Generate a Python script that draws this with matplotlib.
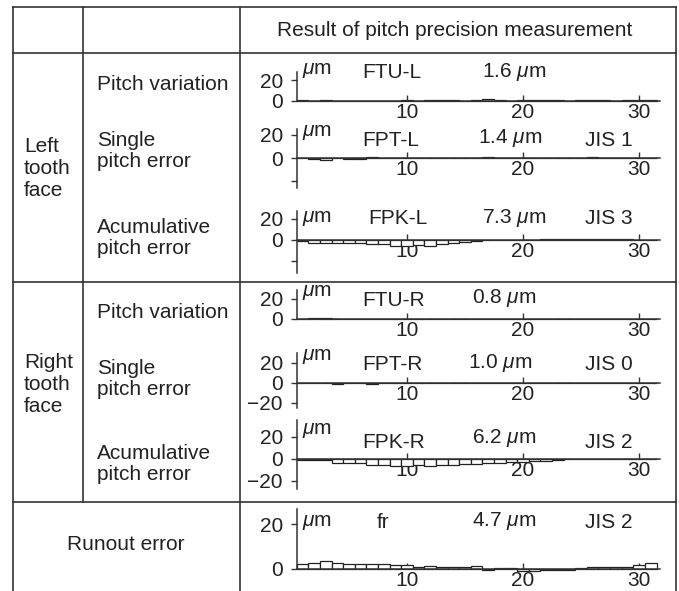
import matplotlib
matplotlib.use("Agg")
import matplotlib.pyplot as plt

plt.rcParams['font.family'] = ['Liberation Sans', 'DejaVu Sans']
plt.rcParams['mathtext.fontset'] = 'custom'
plt.rcParams['mathtext.it'] = 'Liberation Sans:italic'
plt.rcParams['mathtext.rm'] = 'Liberation Sans'

# ---------------- data ----------------
teeth = list(range(1, 32))
ftu_l = [1.2, 0.3, 0.5, 0.4, 0.2, 0.3, 0.2, 0.4, 0.3, 0.6, 0.2, 1.0, 1.1, 1.0, 0.4, 0.7,
         1.6, 0.9, 0.4, 1.1, 1.0, 1.2, 1.1, 0.0, 0.9, 1.2, 1.0, 0.3, 0.6, 1.4, 0.5]
fpt_l = [0.3, -1.2, -1.4, 0.0, -0.9, -0.8, 0.5, 0.3, 0.4, 0.2, 0.3, 0.2, 0.1, -0.4, 0.3, 0.2,
         0.5, -0.2, 0.3, 0.2, 0.3, 0.1, 0.2, -0.3, 0.1, 1.0, 0.2, 0.0, 0.3, 0.1, 0.0]
fpk_l = [-0.5, -2.5, -3.0, -3.0, -3.3, -3.3, -4.2, -4.2, -5.5, -6.0, -4.5, -5.5, -3.5, -2.5,
         -1.8, -1.2, -0.3, 0.0, 0.2, 0.3, 0.3, 0.5, 0.5, 0.6, 0.6, 1.3, 0.7, 0.8, 0.8, 0.3, 0.2]
ftu_r = [0.0, 0.8, 0.8, 0.1, 0.0, 0.1, 0.5, 0.5, 0.0, 0.0, 0.1, 0.0, 0.0, 0.0, 0.1, 0.0,
         0.0, 0.1, 0.0, 0.0, 0.0, 0.1, 0.0, 0.0, 0.0, 0.0, 0.1, 0.0, 0.0, 0.0, 0.0]
fpt_r = [-0.2, -0.1, 0.0, -0.5, -0.2, -0.3, -0.5, -0.4, 0.3, -0.2, -0.3, -0.3, -0.3, 0.5,
         0.5, 0.5, 0.5, 0.5, 0.4, -0.2, 0.4, 0.4, 0.4, 0.4, 0.4, 0.0, 0.0, 0.0, 0.0, 0.0, 0.0]
fpk_r = [-0.8, -1.0, -1.0, -3.5, -3.5, -4.0, -5.0, -5.8, -6.0, -6.0, -5.8, -6.0, -5.5, -5.3,
         -4.5, -4.5, -3.8, -3.5, -3.0, -2.5, -2.0, -1.5, -1.0, 0.2, 0.2, 0.2, 0.2, 0.2, 0.2, 0.2, 0.2]
fr = [2.2, 2.7, 3.6, 2.7, 2.4, 2.4, 2.4, 2.2, 1.9, 1.9, 1.0, 1.5, 0.9, 0.9, 0.9, 1.2,
      -0.3, 0.4, 0.4, -1.1, -0.7, -0.3, -0.3, -0.3, 0.4, 1.0, 1.0, 1.0, 1.0, 1.8, 2.5]

series = [ftu_l, fpt_l, fpk_l, ftu_r, fpt_r, fpk_r, fr]
codes = ["FTU-L", "FPT-L", "FPK-L", "FTU-R", "FPT-R", "FPK-R", "fr"]
results = ["1.6", "1.4", "7.3", "0.8", "1.0", "6.2", "4.7"]
grades = ["", "JIS 1", "JIS 3", "", "JIS 0", "JIS 2", "JIS 2"]
x_ticks = [10, 20, 30]
header = "Result of pitch precision measurement"
row_items = ["Pitch variation", "Single\npitch error", "Acumulative\npitch error"]
faces = ["Left\ntooth\nface", "Right\ntooth\nface"]
runout_label = "Runout error"

# ---------------- layout ----------------
W, H = 679, 591
FS = 15
TXT = '#222222'
LINE = '#333333'
fig = plt.figure(figsize=(W / 100, H / 100), dpi=100)
bg = fig.add_axes([0, 0, 1, 1])
bg.set_xlim(0, W)
bg.set_ylim(H, 0)
bg.axis('off')

# table lines
lw_tab = 1.2
L, R = 12.5, 676
for y in [7, 53, 282, 502]:
    bg.plot([L, R], [y, y], color=LINE, lw=lw_tab)
bg.plot([L, L], [7, H], color=LINE, lw=lw_tab)
bg.plot([R, R], [7, H], color=LINE, lw=lw_tab)
bg.plot([83, 83], [7, 502], color=LINE, lw=lw_tab)
bg.plot([240, 240], [7, H], color=LINE, lw=lw_tab)

bg.text(455, 30, header, fontsize=FS, color=TXT, ha='center', va='center')

item_y = [[84, 151, 238], [313, 379, 464]]
face_y = [168, 385]
for k in range(2):
    bg.text(24, face_y[k], faces[k], fontsize=FS, color=TXT, ha='left', va='center',
            linespacing=1.2)
    for j, lab in enumerate(row_items):
        bg.text(97, item_y[k][j], lab, fontsize=FS, color=TXT, ha='left', va='center',
                linespacing=1.17)
bg.text(126, 545, runout_label, fontsize=FS, color=TXT, ha='center', va='center')

# panel geometry (pixels): zero line, 20-um tick, spine top, spine bottom, -20 label
geom = [
    (101, 80, 72, 101, None),
    (158, 135, 129, 188, ''),
    (240, 219, 211, 273, ''),
    (319, 299, 290, 319, None),
    (383, 363, 353, 408, '\u221220'),
    (459, 437, 420, 489, '\u221220'),
    (569, 524, 509, 569, None),
]
# text rows (pixels): (um_y, code_x, code_y, result_x, result_y, grade_y)
texts = [
    (70, 362, 72, 482, 72, 72),
    (132, 362, 140, 478, 138, 140),
    (218, 368, 218, 482, 218, 218),
    (293, 362, 300, 472, 298, 300),
    (357, 362, 365, 468, 363, 365),
    (430, 362, 442, 472, 438, 442),
    (523, 377, 523, 472, 521, 523),
]

X0, X1 = 296.8, 660.0
for vals, (zero, p20, top, bot, neg), code, res, grade, tp in zip(
        series, geom, codes, results, grades, texts):
    s = (zero - p20) / 20.0
    ax_bot = max(bot, zero + 8)
    ymax = (zero - top) / s
    ymin = -(ax_bot - zero) / s
    ax = fig.add_axes([X0 / W, 1 - ax_bot / H, (X1 - X0) / W, (ax_bot - top) / H])
    ax.patch.set_visible(False)
    ax.set_xlim(0.5, 31.8)
    ax.set_ylim(ymin, ymax)
    ax.bar(teeth, vals, width=1.0, facecolor='white', edgecolor='#222222',
           linewidth=0.9, zorder=2, clip_on=False)
    for sp in ['top', 'right']:
        ax.spines[sp].set_visible(False)
    ax.spines['bottom'].set_position(('data', 0))
    ax.spines['left'].set_bounds(-(bot - zero) / s, ymax)
    for sp in ['bottom', 'left']:
        ax.spines[sp].set_color(LINE)
        ax.spines[sp].set_linewidth(1.1)
    ax.set_xticks(x_ticks)
    ax.set_xticklabels([str(t) for t in x_ticks])
    if neg is None:
        ax.set_yticks([20, 0])
        ax.set_yticklabels(['20', '0'])
    else:
        ax.set_yticks([20, 0, -20])
        ax.set_yticklabels(['20', '0', neg])
    ax.tick_params(axis='x', direction='in', length=4, width=1, pad=1.5,
                   labelsize=FS, colors=LINE, labelcolor=TXT)
    ax.tick_params(axis='y', direction='out', length=4, width=1, pad=6,
                   labelsize=FS, colors=LINE, labelcolor=TXT)

    um_y, cx, cy, rx, ry, gy = tp
    bg.text(302, um_y, r'$\mu$m', fontsize=FS, color=TXT, ha='left', va='center')
    bg.text(cx, cy, code, fontsize=FS, color=TXT, ha='left', va='center')
    bg.text(rx, ry, res + r' $\mu$m', fontsize=FS, color=TXT, ha='left', va='center')
    if grade:
        bg.text(585, gy, grade, fontsize=FS, color=TXT, ha='left', va='center')

fig.savefig('out.png', dpi=100)
